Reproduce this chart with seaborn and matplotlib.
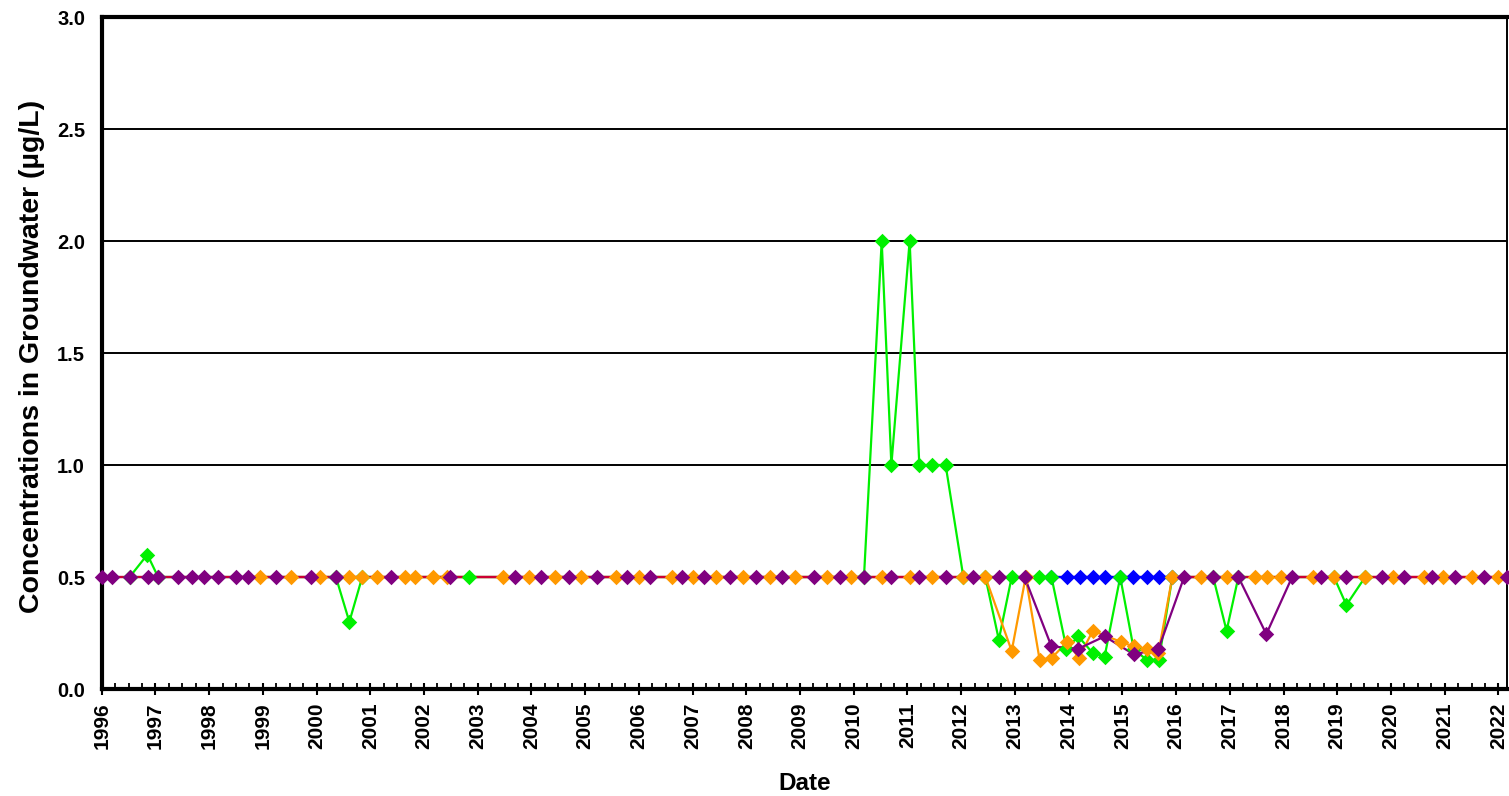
import matplotlib
matplotlib.use("Agg")
import matplotlib.pyplot as plt
import seaborn as sns
import pandas as pd
from matplotlib.ticker import MultipleLocator, FormatStrFormatter

# ---------------- data (decimal years, concentrations in ug/L) ----------------
purple_dates = [1996.00, 1996.19, 1996.52, 1996.87, 1997.05, 1997.42, 1997.68, 1997.91,
                1998.16, 1998.50, 1998.72, 1999.24, 1999.90, 2000.36, 2001.39, 2002.49,
                2003.69, 2004.18, 2004.69, 2005.22, 2005.77, 2006.21, 2006.80, 2007.21,
                2007.69, 2008.18, 2008.67, 2009.26, 2009.74, 2010.19, 2010.70, 2011.22,
                2011.71, 2012.22, 2012.71, 2013.18, 2013.68, 2014.18, 2014.67, 2015.21,
                2015.67, 2016.15, 2016.69, 2017.16, 2017.68, 2018.16, 2018.69, 2019.17,
                2019.83, 2020.24, 2020.77, 2021.20, 2021.73, 2022.16]
purple_vals = [0.5, 0.5, 0.5, 0.5, 0.5, 0.5, 0.5, 0.5,
               0.5, 0.5, 0.5, 0.5, 0.5, 0.5, 0.5, 0.5,
               0.5, 0.5, 0.5, 0.5, 0.5, 0.5, 0.5, 0.5,
               0.5, 0.5, 0.5, 0.5, 0.5, 0.5, 0.5, 0.5,
               0.5, 0.5, 0.5, 0.5, 0.19, 0.18, 0.235, 0.155,
               0.177, 0.5, 0.5, 0.5, 0.245, 0.5, 0.5, 0.5,
               0.5, 0.5, 0.5, 0.5, 0.5, 0.5]

orange_dates = [1998.95, 1999.53, 2000.07, 2000.61, 2000.85, 2001.12, 2001.64, 2001.84,
                2002.17, 2002.43, 2003.47, 2003.95, 2004.43, 2004.92, 2005.58, 2006.00,
                2006.62, 2007.00, 2007.44, 2007.93, 2008.44, 2008.91, 2009.50, 2009.94,
                2010.52, 2011.04, 2011.45, 2012.04, 2012.45, 2012.94, 2013.20, 2013.46,
                2013.69, 2013.97, 2014.19, 2014.45, 2014.98, 2015.21, 2015.45, 2015.67,
                2015.93, 2016.46, 2016.94, 2017.46, 2017.70, 2017.95, 2018.54, 2018.94,
                2019.52, 2020.04, 2020.61, 2020.97, 2021.50, 2022.00]
orange_vals = [0.5, 0.5, 0.5, 0.5, 0.5, 0.5, 0.5, 0.5,
               0.5, 0.5, 0.5, 0.5, 0.5, 0.5, 0.5, 0.5,
               0.5, 0.5, 0.5, 0.5, 0.5, 0.5, 0.5, 0.5,
               0.5, 0.5, 0.5, 0.5, 0.5, 0.17, 0.5, 0.13,
               0.14, 0.21, 0.14, 0.26, 0.21, 0.19, 0.18, 0.16,
               0.5, 0.5, 0.5, 0.5, 0.5, 0.5, 0.5, 0.5,
               0.5, 0.5, 0.5, 0.5, 0.5, 0.5]

green_dates = [1996.52, 1996.85, 1997.05, 2000.36, 2000.61, 2000.85, 2002.83, 2010.19,
               2010.52, 2010.70, 2011.04, 2011.22, 2011.45, 2011.71, 2012.04, 2012.45,
               2012.70, 2012.94, 2013.44, 2013.68, 2013.96, 2014.18, 2014.45, 2014.67,
               2014.96, 2015.21, 2015.45, 2015.68, 2015.93, 2016.69, 2016.94, 2017.16,
               2018.94, 2019.17, 2019.52]
green_vals = [0.5, 0.6, 0.5, 0.5, 0.30, 0.5, 0.5, 0.5,
              2.0, 1.0, 2.0, 1.0, 1.0, 1.0, 0.5, 0.5,
              0.22, 0.5, 0.5, 0.5, 0.18, 0.235, 0.16, 0.145,
              0.5, 0.18, 0.13, 0.13, 0.5, 0.5, 0.26, 0.5,
              0.5, 0.375, 0.5]

blue_dates = [2013.68, 2013.97, 2014.21, 2014.45, 2014.67, 2014.96, 2015.20, 2015.45,
              2015.68, 2015.93]
blue_vals = [0.5, 0.5, 0.5, 0.5, 0.5, 0.5, 0.5, 0.5, 0.5, 0.5]

red_dates = [1996.00, 2022.16]
red_vals = [0.5, 0.5]

y_ticks = [0.0, 0.5, 1.0, 1.5, 2.0, 2.5, 3.0]
x_years = list(range(1996, 2023))

# ---------------- style ----------------
sns.set_style("white")
plt.rcParams['font.family'] = ['Liberation Sans', 'DejaVu Sans']
plt.rcParams['font.weight'] = 'bold'
plt.rcParams['text.color'] = 'black'
plt.rcParams['axes.labelcolor'] = 'black'
plt.rcParams['xtick.color'] = 'black'
plt.rcParams['ytick.color'] = 'black'

fig = plt.figure(figsize=(15.09, 7.96), dpi=100)
ax = fig.add_axes([0.0674, 0.1344, 0.93127, 0.8442])

C_GREEN = '#00F000'
C_ORANGE = '#FF9900'
C_PURPLE = '#800080'
C_BLUE = '#0000FF'
C_RED = '#CC0033'

series = [
    (green_dates, green_vals, C_GREEN, 2.1, 6),
    (orange_dates, orange_vals, C_ORANGE, 2.2, 7),
    (purple_dates, purple_vals, C_PURPLE, 2.3, 8),
    (red_dates, red_vals, C_RED, 2.4, None),
    (blue_dates, blue_vals, C_BLUE, 2.5, 5),
]

for dates, vals, col, zl, zm in series:
    df = pd.DataFrame({'date': dates, 'conc': vals})
    sns.lineplot(data=df, x='date', y='conc', color=col, linewidth=1.6,
                 estimator=None, sort=False, ax=ax, zorder=zl, clip_on=False)
    if zm is not None:
        sns.scatterplot(data=df, x='date', y='conc', color=col, marker='D', s=62,
                        linewidth=0, ax=ax, zorder=zm, clip_on=False, legend=False)

ax.set_xlim(1996.0, 2022.16)
ax.set_ylim(0, 3.0)

ax.set_yticks(y_ticks)
ax.yaxis.set_major_formatter(FormatStrFormatter('%.1f'))
ax.set_xticks(x_years)
ax.set_xticklabels([str(y) for y in x_years])
ax.xaxis.set_minor_locator(MultipleLocator(0.25))

ax.yaxis.grid(True, color='black', linewidth=1.4)
ax.xaxis.grid(False)
ax.set_axisbelow(True)

for side in ['left', 'bottom', 'top']:
    ax.spines[side].set_visible(True)
    ax.spines[side].set_linewidth(3.0)
    ax.spines[side].set_color('black')
ax.spines['right'].set_visible(True)
ax.spines['right'].set_linewidth(1.4)
ax.spines['right'].set_color('black')

ax.tick_params(axis='x', which='major', direction='inout', length=9, width=1.5,
               pad=5, labelsize=15, labelrotation=90, color='black', bottom=True,
               labelcolor='black')
ax.tick_params(axis='x', which='minor', direction='in', length=4, width=1.3,
               color='black', bottom=True)
ax.tick_params(axis='y', which='major', length=0, pad=12, labelsize=14.5,
               labelcolor='black')

ax.set_xlabel('Date', fontsize=17.5, fontweight='bold', color='black')
ax.xaxis.set_label_coords(0.5005, -0.1235)
ax.set_ylabel('Concentrations in Groundwater (µg/L)', fontsize=20.5, fontweight='bold',
              color='black')
ax.yaxis.set_label_coords(-0.0405, 0.4955)

fig.savefig('out.png', dpi=100)
